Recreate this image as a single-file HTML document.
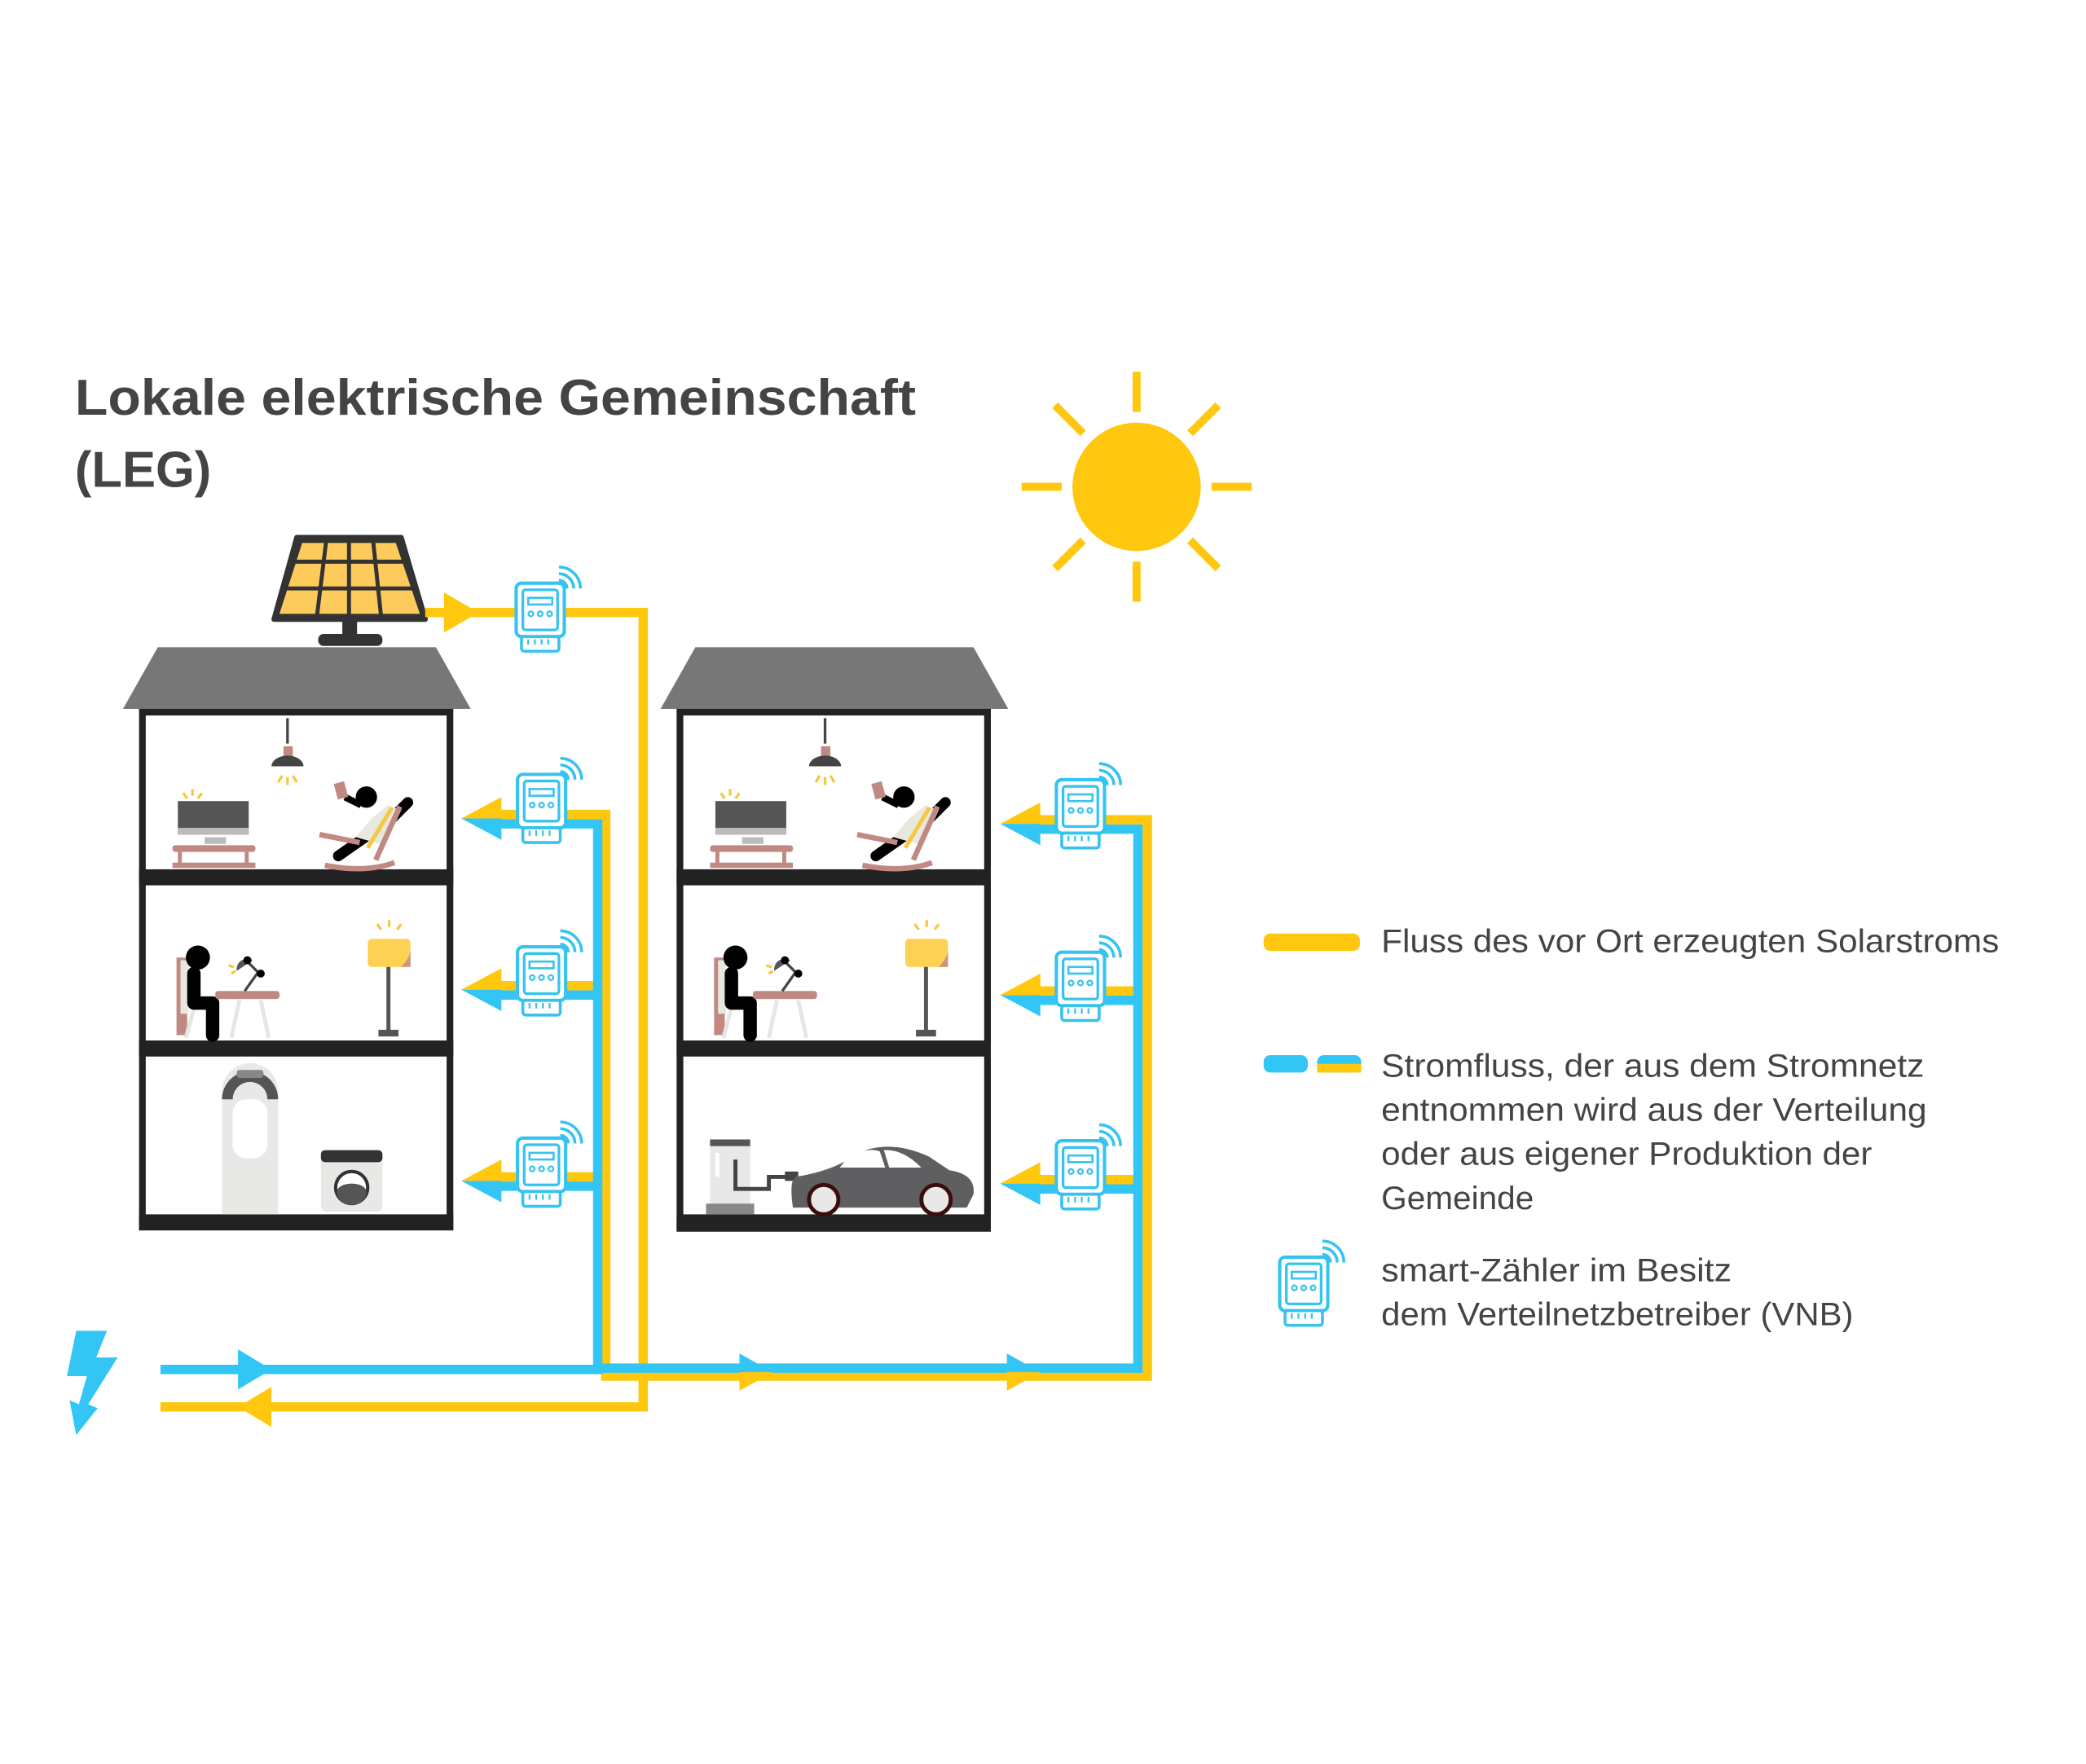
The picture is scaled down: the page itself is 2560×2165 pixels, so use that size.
<!DOCTYPE html>
<html><head><meta charset="utf-8"><style>
html,body{margin:0;padding:0;background:#fff;}
svg{display:block;}
</style></head><body>
<svg width="2560" height="2165" viewBox="0 0 1560 1319" preserveAspectRatio="none" xmlns="http://www.w3.org/2000/svg">
<defs>
<g id="meter">
 <rect x="-18" y="-26" width="36" height="40" rx="4" fill="#fff" stroke="#37C3F0" stroke-width="2.5"/>
 <rect x="-13" y="-21" width="26" height="30" rx="2" fill="none" stroke="#37C3F0" stroke-width="2"/>
 <rect x="-9" y="-15" width="18" height="5" fill="none" stroke="#37C3F0" stroke-width="1.6"/>
 <circle cx="-7" cy="-3" r="1.8" fill="none" stroke="#37C3F0" stroke-width="1.4"/>
 <circle cx="0" cy="-3" r="1.8" fill="none" stroke="#37C3F0" stroke-width="1.4"/>
 <circle cx="7" cy="-3" r="1.8" fill="none" stroke="#37C3F0" stroke-width="1.4"/>
 <rect x="-14" y="14" width="28" height="11" rx="2" fill="#fff" stroke="#37C3F0" stroke-width="2.2"/>
 <path d="M-9 16v4M-4 16v4M1 16v4M6 16v4" stroke="#37C3F0" stroke-width="1.4"/>
 <path d="M14 -28 a6 6 0 0 1 6 6 M14 -33 a11 11 0 0 1 11 11 M14 -38 a16 16 0 0 1 16 16" fill="none" stroke="#37C3F0" stroke-width="2.2"/>
</g>
<g id="leftarrow">
 <polygon points="0,4 30,-12 30,4" fill="#FFC80F"/>
 <polygon points="0,4 30,4 30,20" fill="#33C6F5"/>
</g>
<g id="rightarrow">
 <polygon points="25,0 0,-14 0,0" fill="#33C6F5"/>
 <polygon points="25,0 0,0 0,14" fill="#FFC80F"/>
</g>
<g id="floors">
 <!-- floor 1 -->
 <line x1="112" y1="537" x2="112" y2="556" stroke="#444" stroke-width="2"/>
 <rect x="109" y="558" width="7" height="8" fill="#c08a82"/>
 <path d="M100 573 a12 8 0 0 1 24 0 z" fill="#444"/>
 <path d="M108 580l-3 5M112 581v6M116 580l3 5" stroke="#f5c842" stroke-width="2"/>
 <rect x="30" y="599" width="53" height="25" fill="#555"/>
 <rect x="30" y="619" width="53" height="5" fill="#bbb"/>
 <rect x="50" y="626" width="16" height="5" fill="#bbb"/>
 <rect x="26" y="632" width="62" height="5" rx="2" fill="#c08a82"/>
 <rect x="30" y="637" width="3" height="10" fill="#c08a82"/><rect x="80" y="637" width="3" height="10" fill="#c08a82"/>
 <rect x="26" y="645" width="62" height="4" fill="#c08a82"/>
 <path d="M37 597l-3 -4M41 595v-5M45 597l3 -4" stroke="#f5c842" stroke-width="2"/>
 <path d="M150 640 l40 -28 l12 -12" stroke="#000" stroke-width="8" stroke-linecap="round" fill="none"/>
 <circle cx="171" cy="596" r="8" fill="#000"/>
 <path d="M167 602 l-12 -6" stroke="#000" stroke-width="5"/>
 <rect x="148" y="585" width="8" height="12" fill="#c08a82" transform="rotate(-15 152 591)"/>
 <path d="M175 612 l12 -10 l10 4 l-12 26 l-22 -6z" fill="#e9e8de"/>
 <path d="M190 604 l-18 30" stroke="#f5c842" stroke-width="3"/>
 <path d="M136 624 l30 6 M196 603 l-18 40 M140 647 q30 6 52 -2" stroke="#c08a82" stroke-width="4" fill="none"/>
 <!-- floor 2 -->
 <rect x="29" y="716" width="8" height="58" fill="#c08a82"/>
 <rect x="32" y="718" width="6" height="40" fill="#e9e8de"/>
 <path d="M36 776 l6 -22 M60 776 l-6 -22 M70 776 l6 -28 M98 776 l-6 -28" stroke="#e6e6e6" stroke-width="3"/>
 <circle cx="45" cy="716" r="9" fill="#000"/>
 <path d="M42 728 v22 h14 v24" stroke="#000" stroke-width="10" stroke-linecap="round" stroke-linejoin="round" fill="none"/>
 <rect x="58" y="741" width="48" height="6" rx="2" fill="#c08a82"/>
 <path d="M80 741 l10 -14 l-8 -8" stroke="#444" stroke-width="2" fill="none"/>
 <path d="M74 726 a8 8 0 0 1 12 -8 z" fill="#555"/>
 <circle cx="92" cy="728" r="3" fill="#000"/><circle cx="82" cy="718" r="3" fill="#000"/>
 <path d="M68 722l4 1M70 728l3 -2" stroke="#f5c842" stroke-width="2"/>
 <rect x="172" y="702" width="32" height="21" rx="3" fill="#fdd153"/>
 <path d="M197 723 q6 -6 7 -12 v12 z" fill="#c9967e"/>
 <rect x="186" y="723" width="3" height="50" fill="#555"/>
 <rect x="180" y="770" width="15" height="5" fill="#555"/>
 <path d="M182 695l-3 -4M188 693v-5M194 695l3 -4" stroke="#f5c842" stroke-width="2"/>
</g>
</defs>

<!-- title -->
<text x="56" y="310" font-family="Liberation Sans, sans-serif" font-weight="bold" font-size="38" fill="#444" textLength="629" lengthAdjust="spacingAndGlyphs">Lokale elektrische Gemeinschaft</text>
<text x="56" y="364" font-family="Liberation Sans, sans-serif" font-weight="bold" font-size="38" fill="#444" textLength="102" lengthAdjust="spacingAndGlyphs">(LEG)</text>

<!-- sun -->
<circle cx="850" cy="364" r="48" fill="#FFC80F"/>
<g stroke="#FFC80F" stroke-width="6" stroke-linecap="butt">
 <line x1="850" y1="278" x2="850" y2="308"/><line x1="850" y1="420" x2="850" y2="450"/>
 <line x1="764" y1="364" x2="794" y2="364"/><line x1="906" y1="364" x2="936" y2="364"/>
 <line x1="789" y1="303" x2="810" y2="324"/><line x1="890" y1="404" x2="911" y2="425"/>
 <line x1="911" y1="303" x2="890" y2="324"/><line x1="810" y1="404" x2="789" y2="425"/>
</g>

<!-- solar panel -->
<polygon points="222,402 300,402 318,463 205,463" fill="#333" stroke="#333" stroke-width="4" stroke-linejoin="round"/>
<g fill="#FDCB5C">
<polygon points="226,406 296,406 314,459 209,459"/>
</g>
<g stroke="#333" stroke-width="3">
<line x1="244" y1="404" x2="237" y2="461"/><line x1="261" y1="404" x2="261" y2="461"/><line x1="279" y1="404" x2="285" y2="461"/>
<line x1="218" y1="420" x2="305" y2="420"/><line x1="213" y1="440" x2="311" y2="440"/>
</g>
<rect x="256" y="463" width="11" height="15" fill="#333"/>
<rect x="238" y="474" width="48" height="9" rx="4" fill="#333"/>

<!-- houses -->
<polygon points="118,484 326,484 352,530 92,530" fill="#777"/>
<rect x="106.5" y="532.5" width="230" height="385" fill="#fff" stroke="#222" stroke-width="5"/>
<rect x="104" y="650" width="235" height="12" fill="#222"/>
<rect x="104" y="778" width="235" height="12" fill="#222"/>
<rect x="104" y="908" width="235" height="12" fill="#222"/>

<polygon points="520,484 728,484 754,530 494,530" fill="#777"/>
<rect x="508.5" y="532.5" width="230" height="385" fill="#fff" stroke="#222" stroke-width="5"/>
<rect x="506" y="650" width="235" height="12" fill="#222"/>
<rect x="506" y="778" width="235" height="12" fill="#222"/>
<rect x="506" y="908" width="235" height="13" fill="#222"/>

<use href="#floors" x="103" y="0"/>
<use href="#floors" x="505" y="0"/>

<!-- left ground floor: boiler + washer -->
<path d="M166 908 v-92 a21 21 0 0 1 42 0 v92z" fill="#e8e8e6"/>
<path d="M166 822 a21 21 0 0 1 42 0 h-8 a13 13 0 0 0 -26 0 z" fill="#555"/>
<rect x="177" y="800" width="20" height="6" rx="2" fill="#888"/>
<rect x="174" y="822" width="26" height="44" rx="10" fill="#fff"/>
<rect x="240" y="860" width="46" height="46" rx="4" fill="#e8e8e6"/>
<rect x="240" y="860" width="46" height="9" rx="3" fill="#333"/>
<circle cx="263" cy="888" r="12" fill="#fff" stroke="#333" stroke-width="2.5"/>
<path d="M252 891 a11 6 0 0 1 22 0 a11 10 0 0 1 -22 0z" fill="#555"/>

<!-- right ground floor: charger + car -->
<rect x="531" y="855" width="30" height="50" fill="#e8e8e6"/>
<rect x="531" y="852" width="30" height="5" fill="#555"/>
<rect x="528" y="900" width="36" height="8" fill="#888"/>
<rect x="535" y="862" width="3" height="18" fill="#fff"/>
<path d="M550 867 v22 h25 v-9 h14" stroke="#444" stroke-width="3" fill="none"/>
<rect x="587" y="876" width="10" height="7" fill="#444"/>
<path d="M595 880 q30 -5 45 -17 q25 -12 55 2 l15 10 q20 3 18 18 l-5 10 h-130 q-3 -20 2 -23z" fill="#5f5f61"/>
<path d="M628 873 l8 -10 q15 -5 22 -2 l4 12z M665 873 l-4 -13 q14 -1 28 13z" fill="#fff"/>
<circle cx="616" cy="897" r="11" fill="#e8e8e6" stroke="#3a0d0d" stroke-width="3"/>
<circle cx="700" cy="897" r="11" fill="#e8e8e6" stroke="#3a0d0d" stroke-width="3"/>

<!-- main yellow line -->
<g fill="none" stroke-linejoin="miter">
<path d="M318 458 H481 V1052 H120" stroke="#FFC80F" stroke-width="7"/>
<!-- left house risers -->
<path d="M370 609 H453 V1029 H858 V613 H775" stroke="#FFC80F" stroke-width="7"/>
<path d="M370 737 H453 M370 880 H453" stroke="#FFC80F" stroke-width="7"/>
<path d="M775 741 H858 M775 882 H858" stroke="#FFC80F" stroke-width="7"/>
<path d="M370 616 H447 V1024 H120" stroke="#33C6F5" stroke-width="7"/>
<path d="M370 744 H447 M370 887 H447" stroke="#33C6F5" stroke-width="7"/>
<path d="M447 1023 H851 V620 H775" stroke="#33C6F5" stroke-width="7"/>
<path d="M775 748 H851 M775 889 H851" stroke="#33C6F5" stroke-width="7"/>
</g>
<polygon points="358,458 332,443 332,473" fill="#FFC80F"/>

<use href="#leftarrow" x="345" y="608"/>
<use href="#leftarrow" x="345" y="736"/>
<use href="#leftarrow" x="345" y="879"/>
<use href="#leftarrow" x="748" y="612"/>
<use href="#leftarrow" x="748" y="740"/>
<use href="#leftarrow" x="748" y="881"/>

<polygon points="203,1024 178,1009 178,1039" fill="#33C6F5"/>
<polygon points="178,1052 203,1037 203,1067" fill="#FFC80F"/>
<use href="#rightarrow" x="553" y="1026"/>
<use href="#rightarrow" x="753" y="1026"/>

<!-- lightning -->
<polygon points="57,995 80,995 72,1015 88,1015 66,1050 73,1053 57,1073 52,1047 59,1050 65,1029 50,1029" fill="#33C6F5"/>

<!-- meters -->
<use href="#meter" x="404" y="462"/>
<use href="#meter" x="405" y="605"/>
<use href="#meter" x="405" y="734"/>
<use href="#meter" x="405" y="877"/>
<use href="#meter" x="808" y="609"/>
<use href="#meter" x="808" y="738"/>
<use href="#meter" x="808" y="879"/>
<use href="#meter" x="975" y="966"/>

<!-- legend -->
<rect x="945" y="698" width="72" height="13" rx="5" fill="#FFC80F"/>
<rect x="945" y="789" width="33" height="13" rx="5" fill="#33C6F5"/>
<rect x="985" y="789" width="33" height="13" rx="5" fill="#33C6F5"/>
<rect x="985" y="795.5" width="33" height="6.5" fill="#FFC80F"/>
<g font-family="Liberation Sans, sans-serif" font-size="24" fill="#444">
<text x="1033" y="712" textLength="462" lengthAdjust="spacingAndGlyphs">Fluss des vor Ort erzeugten Solarstroms</text>
<text x="1033" y="805" textLength="406" lengthAdjust="spacingAndGlyphs">Stromfluss, der aus dem Stromnetz</text>
<text x="1033" y="838" textLength="408" lengthAdjust="spacingAndGlyphs">entnommen wird aus der Verteilung</text>
<text x="1033" y="871" textLength="367" lengthAdjust="spacingAndGlyphs">oder aus eigener Produktion der</text>
<text x="1033" y="904" textLength="114" lengthAdjust="spacingAndGlyphs">Gemeinde</text>
<text x="1033" y="958" textLength="262" lengthAdjust="spacingAndGlyphs">smart-Zähler im Besitz</text>
<text x="1033" y="991" textLength="353" lengthAdjust="spacingAndGlyphs">dem Verteilnetzbetreiber (VNB)</text>
</g>
</svg>
</body></html>
